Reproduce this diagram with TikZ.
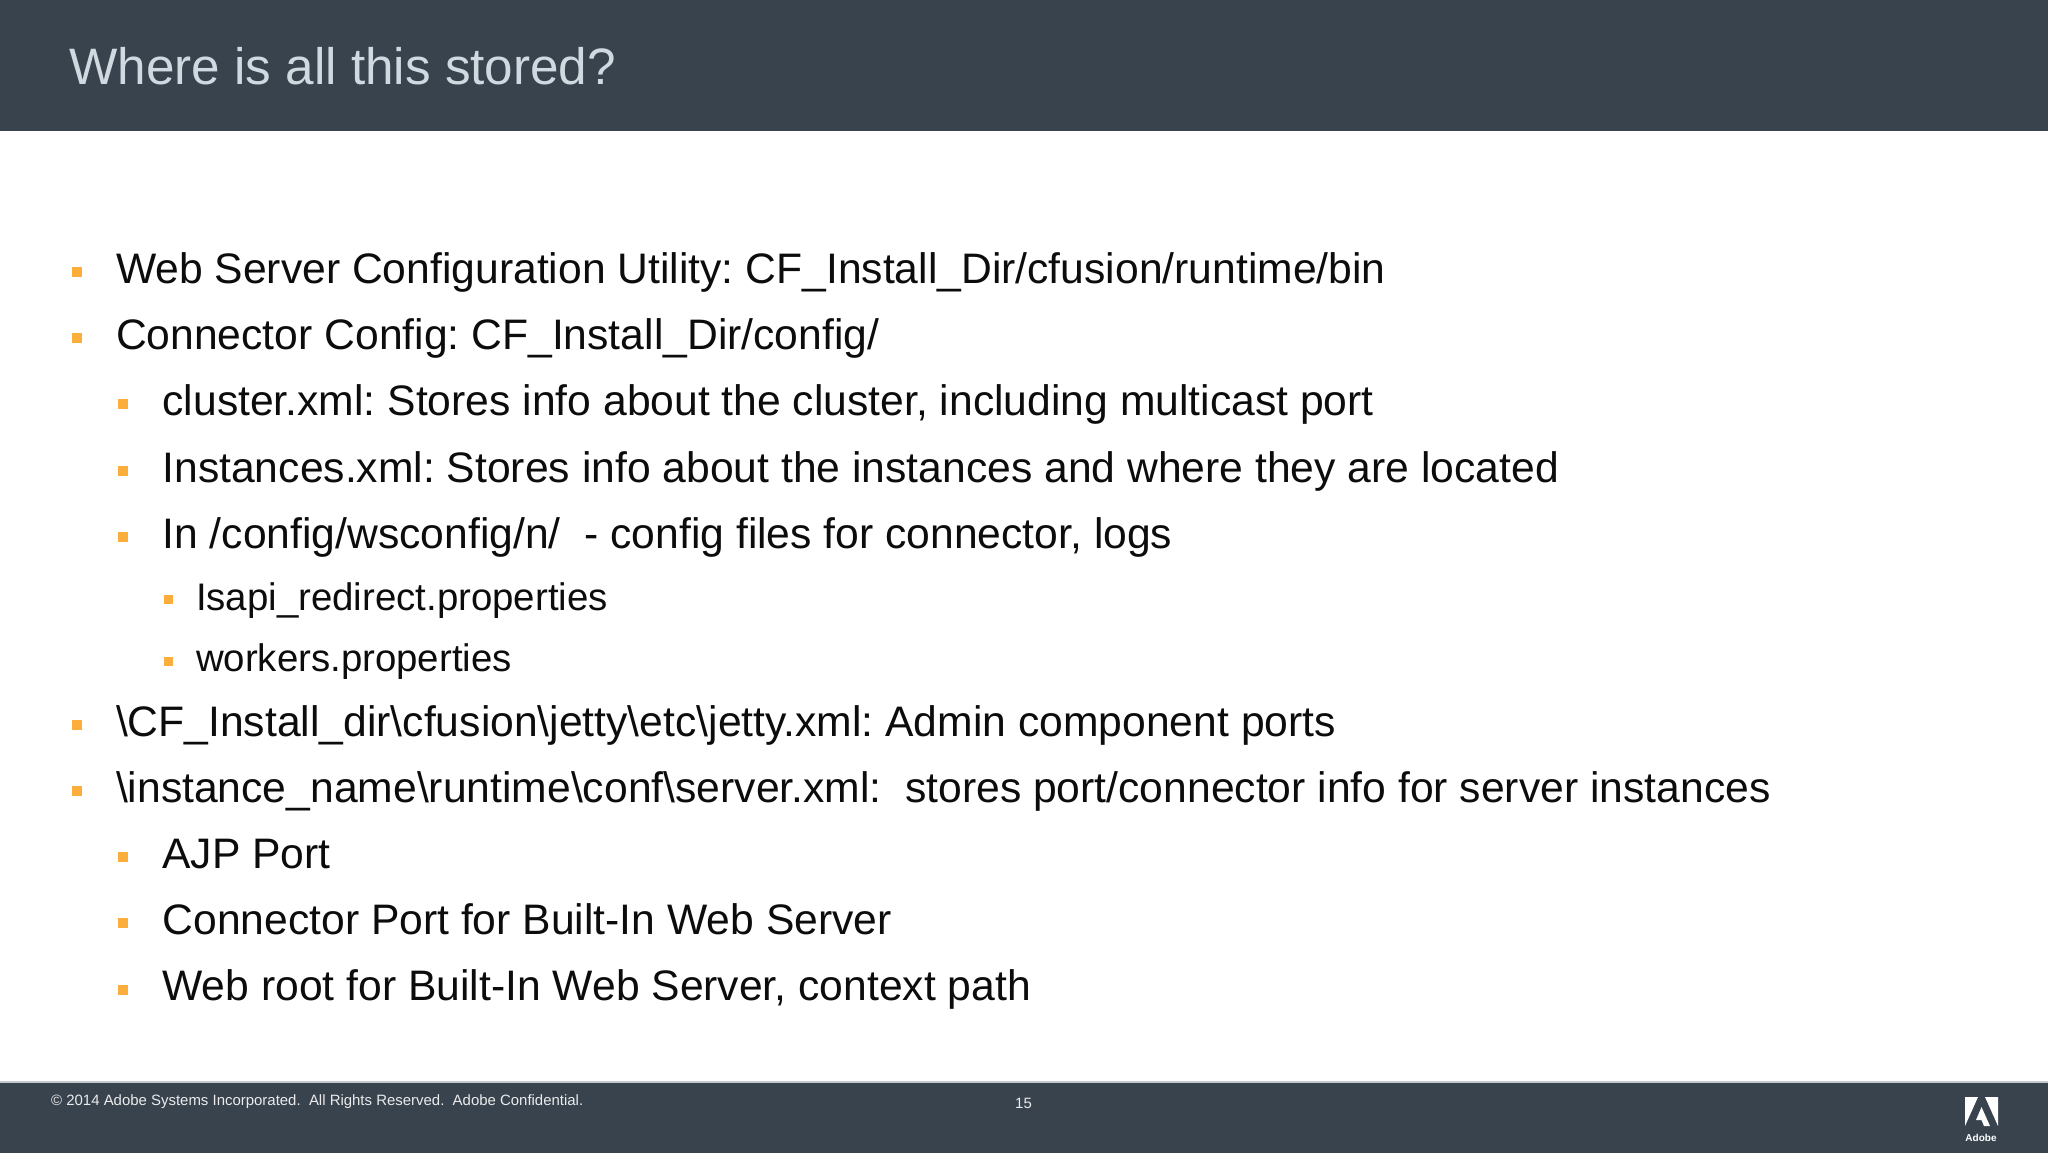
\documentclass[tikz,border=0pt]{standalone}
\usepackage{fontspec}
\setmainfont{Liberation Sans}
\frenchspacing
\definecolor{barcol}{HTML}{38434E}
\definecolor{barline}{HTML}{C4CACF}
\definecolor{titlecol}{HTML}{D0D8E0}
\definecolor{bulcol}{HTML}{FBAE3B}
\definecolor{txtcol}{HTML}{0C0C0C}
\tikzset{
  txt/.style={anchor=base west,inner sep=0pt,outer sep=0pt,text=txtcol},
  lone/.style={txt,font=\fontsize{42.65}{43}\selectfont},
  lthree/.style={txt,font=\fontsize{38.4}{39}\selectfont},
  foot/.style={anchor=base west,inner sep=0pt,text=white!92!black,font=\fontsize{14.95}{16}\selectfont},
}
\newcommand{\bul}[3]{\fill[bulcol] (#1,#2) rectangle ++(#3,#3);}
\begin{document}
\begin{tikzpicture}[x=1pt,y=-1pt]
\useasboundingbox (0,0) rectangle (2048,1152);
\fill[white] (0,0) rectangle (2048,1152);
\fill[barcol] (0,0) rectangle (2048,130.5);
\fill[barcol] (0,1082) rectangle (2048,1153);
\fill[barline] (0,1081) rectangle (2048,1083);
\node[anchor=base west,inner sep=0pt,text=titlecol,font=\fontsize{51.25}{52}\selectfont] (title) at (69,84) {Where is all this stored?};
\bul{72}{267}{10}
\node[lone] (a1) at (116,283) {Web Server Configuration Utility: CF\_Install\_Dir/cfusion/runtime/bin};
\bul{72}{333}{10}
\node[lone] (a2) at (116,349) {Connector Config: CF\_Install\_Dir/config/};
\bul{118}{399}{10}
\node[lone] (a3) at (162.5,415) {cluster.xml: Stores info about the cluster, including multicast port};
\bul{118}{466}{10}
\node[lone] (a4) at (162.5,482) {Instances.xml: Stores info about the instances and where they are located};
\bul{118}{532}{10}
\node[lone] (a5) at (162.5,548) {In /config/wsconfig/n/\ \ - config files for connector, logs};
\bul{164}{595}{9}
\node[lthree] (a6) at (196,610) {Isapi\_redirect.properties};
\bul{164}{657}{9}
\node[lthree] (a7) at (196,671) {workers.properties};
\bul{72}{720}{10}
\node[lone] (a8) at (116,736) {\textbackslash CF\_Install\_dir\textbackslash cfusion\textbackslash jetty\textbackslash etc\textbackslash jetty.xml: Admin component ports};
\bul{72}{786}{10}
\node[lone] (a9) at (116,802) {\textbackslash instance\_name\textbackslash runtime\textbackslash conf\textbackslash server.xml:\ \ stores port/connector info for server instances};
\bul{118}{852}{10}
\node[lone] (a10) at (162.5,868) {AJP Port};
\bul{118}{918}{10}
\node[lone] (a11) at (162.5,934) {Connector Port for Built-In Web Server};
\bul{118}{985}{10}
\node[lone] (a12) at (162.5,1000) {Web root for Built-In Web Server, context path};
\node[foot] (copy) at (51,1105) {© 2014 Adobe Systems Incorporated.\ \ All Rights Reserved.\ \ Adobe Confidential.};
\node[foot] (page) at (1015,1108) {15};
% Adobe logo
\fill[white] (1965,1097) -- (1978,1097) -- (1965,1126) -- cycle;
\fill[white] (1985,1097) -- (1998,1097) -- (1998,1126) -- cycle;
\fill[white] (1981.5,1107) -- (1990,1126) -- (1984,1126) -- (1981.5,1120) -- (1976,1120) -- cycle;
\node[anchor=base,inner sep=0pt,text=white,font=\bfseries\fontsize{10}{10}\selectfont] (adobe) at (1981,1141) {Adobe};
\end{tikzpicture}
\end{document}
